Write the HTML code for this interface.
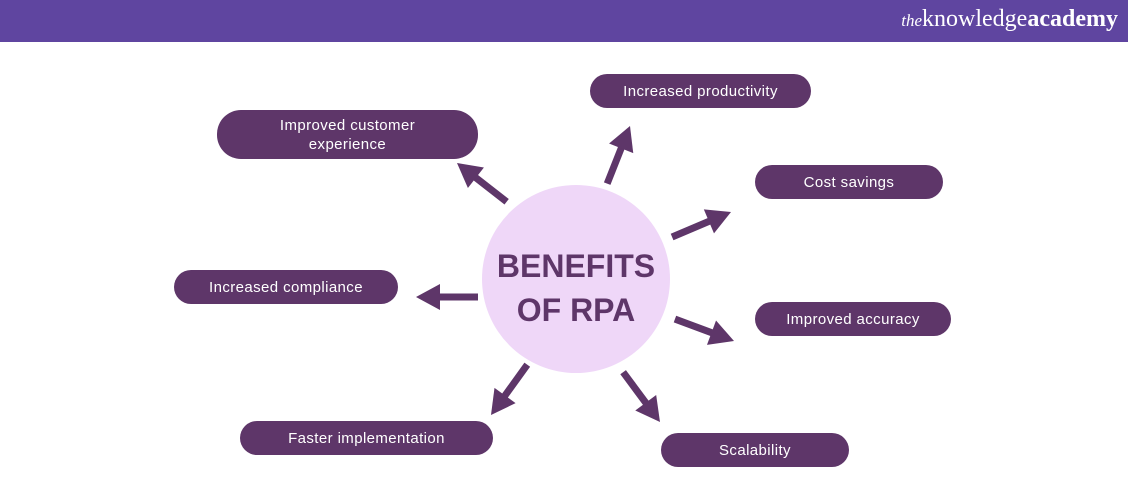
<!DOCTYPE html>
<html><head><meta charset="utf-8"><style>
body{margin:0;width:1128px;height:504px;background:#fff;overflow:hidden;font-family:"Liberation Sans",sans-serif}
svg{position:absolute;left:0;top:0}
.b{position:absolute;background:#5e3669;color:#fff;font-size:15px;letter-spacing:.4px;display:flex;align-items:center;justify-content:center;text-align:center;line-height:19px;box-sizing:border-box}
</style></head><body>
<div style="position:absolute;left:0;top:0;width:1128px;height:42px;background:#5f45a0"></div>
<div style="position:absolute;right:10px;top:6px;color:#fff;font-family:'Liberation Serif',serif;font-size:24px;"><i style="font-size:17px">the</i>knowledge<b>academy</b></div>
<svg width="1128" height="504">
<circle cx="576" cy="279" r="94" fill="#efd7f8"/>
<g fill="#5e3669" stroke="#5e3669">
<g transform="translate(457,163) rotate(218)"><line x1="-63" y1="0" x2="-16" y2="0" stroke-width="7"/><polygon points="0,0 -24,-13 -24,13" stroke="none"/></g>
<g transform="translate(630,126) rotate(-68.4)"><line x1="-62" y1="0" x2="-16" y2="0" stroke-width="7"/><polygon points="0,0 -24,-13 -24,13" stroke="none"/></g>
<g transform="translate(731,212) rotate(-23)"><line x1="-64" y1="0" x2="-16" y2="0" stroke-width="7"/><polygon points="0,0 -24,-13 -24,13" stroke="none"/></g>
<g transform="translate(416,297) rotate(180)"><line x1="-62" y1="0" x2="-16" y2="0" stroke-width="7"/><polygon points="0,0 -24,-13 -24,13" stroke="none"/></g>
<g transform="translate(734,341) rotate(20.4)"><line x1="-63" y1="0" x2="-16" y2="0" stroke-width="7"/><polygon points="0,0 -24,-13 -24,13" stroke="none"/></g>
<g transform="translate(491,415) rotate(125.8)"><line x1="-62" y1="0" x2="-16" y2="0" stroke-width="7"/><polygon points="0,0 -24,-13 -24,13" stroke="none"/></g>
<g transform="translate(660,422) rotate(53.5)"><line x1="-62" y1="0" x2="-16" y2="0" stroke-width="7"/><polygon points="0,0 -24,-13 -24,13" stroke="none"/></g>
</g>
<text x="576" y="277" text-anchor="middle" font-size="32" font-weight="bold" fill="#5e3669" font-family="Liberation Sans,sans-serif">BENEFITS</text>
<text x="576" y="321" text-anchor="middle" font-size="32" font-weight="bold" fill="#5e3669" font-family="Liberation Sans,sans-serif">OF RPA</text>
</svg>
<div class="b" style="left:217px;top:110px;width:261px;height:49px;border-radius:24px">Improved customer<br>experience</div>
<div class="b" style="left:590px;top:74px;width:221px;height:34px;border-radius:17px">Increased productivity</div>
<div class="b" style="left:755px;top:165px;width:188px;height:34px;border-radius:17px">Cost savings</div>
<div class="b" style="left:174px;top:270px;width:224px;height:34px;border-radius:17px">Increased compliance</div>
<div class="b" style="left:755px;top:302px;width:196px;height:34px;border-radius:17px">Improved accuracy</div>
<div class="b" style="left:240px;top:421px;width:253px;height:34px;border-radius:17px">Faster implementation</div>
<div class="b" style="left:661px;top:433px;width:188px;height:34px;border-radius:17px">Scalability</div>
</body></html>
